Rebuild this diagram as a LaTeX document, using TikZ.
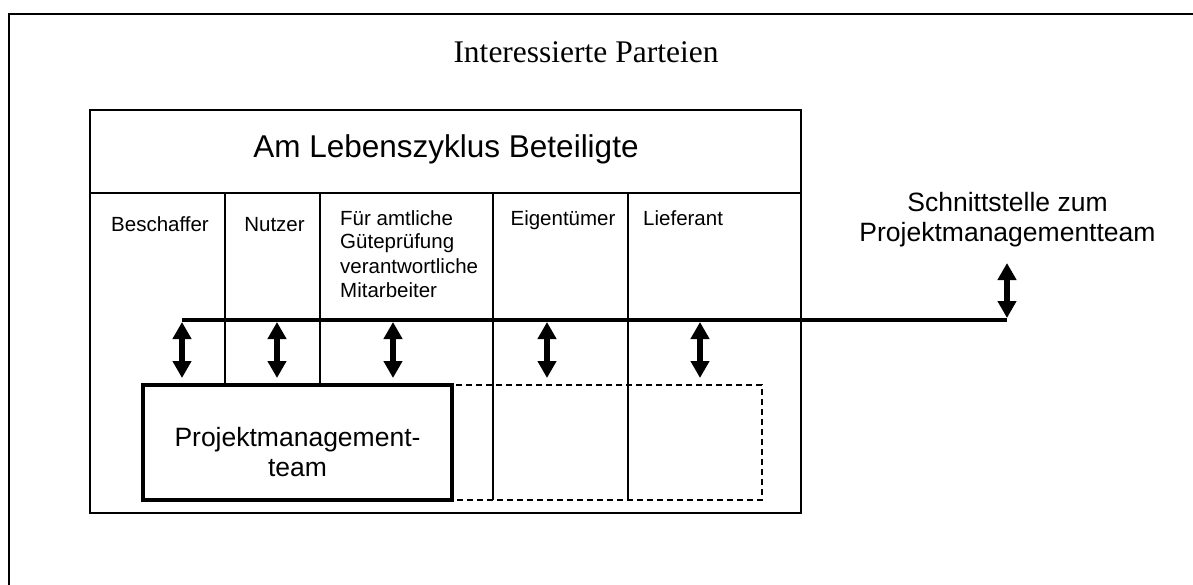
\documentclass[tikz,border=0pt]{standalone}
\usepackage{fontspec}
\setmainfont{Liberation Serif}
\newfontfamily\arialf{Liberation Sans}
\usetikzlibrary{arrows.meta}
\begin{document}
\begin{tikzpicture}[x=1pt,y=-1pt,
  thin/.style={line width=1.5pt},
  bus/.style={line width=4.5pt},
  pmbox/.style={line width=4.5pt},
  dashbox/.style={line width=1.4pt,dash pattern=on 6pt off 4pt},
  dbl/.style={line width=6pt,{Triangle[width=18pt,length=17pt]}-{Triangle[width=18pt,length=17pt]}},
  small/.style={font=\arialf\fontsize{20.5}{24}\selectfont, inner sep=0pt},
  big/.style={font=\arialf\fontsize{26.5}{30}\selectfont, inner sep=0pt, align=center},
  heading/.style={font=\arialf\fontsize{31.5}{36}\selectfont, inner sep=0pt},
  titletext/.style={font=\fontsize{31.5}{36}\selectfont, inner sep=0pt}
]
\useasboundingbox (0,0) rectangle (1193,585);
% outer frame (only top and left visible)
\draw[thin] (9,585) -- (9,14) -- (1193,14);
\node[titletext, anchor=base] (ip) at (586,63) {Interessierte Parteien};

% inner box
\draw[thin] (90,110) rectangle (801,513);
\draw[thin] (90,193) -- (801,193);
\node[heading, anchor=base] (alb) at (446,158) {Am Lebenszyklus Beteiligte};
\draw[thin] (225,193) -- (225,385);
\draw[thin] (320,193) -- (320,385);
\draw[thin] (493,193) -- (493,500);
\draw[thin] (628,193) -- (628,500);

% column labels
\node[small, anchor=base] (besch) at (160,231.7) {Beschaffer};
\node[small, anchor=base] (nutz) at (274.5,231.7) {Nutzer};
\node[small, anchor=base west, align=left] (fuer) at (340,297) {Für amtliche\\Güteprüfung\\verantwortliche\\Mitarbeiter};
\node[small, anchor=base] (eig) at (563,225.7) {Eigentümer};
\node[small, anchor=base west] (lief) at (643,225.7) {Lieferant};

% project management team boxes
\draw[dashbox] (452,385) rectangle (762,500);
\draw[pmbox] (143,385) rectangle (452,500);
\node[big, anchor=base] (pmt) at (297.5,476.7) {Projektmanagement-\\team};

% interface label
\node[big, anchor=base] (sst) at (1007.5,241.7) {Schnittstelle zum\\Projektmanagementteam};

% bus line and arrows
\coordinate (busL) at (182,320);
\coordinate (busR) at (1007,320);
\draw[bus] (busL) -- (busR);
\coordinate (a1t) at (182,322); \coordinate (a1b) at (182,378);
\coordinate (a2t) at (277,322); \coordinate (a2b) at (277,378);
\coordinate (a3t) at (393,322); \coordinate (a3b) at (393,378);
\coordinate (a4t) at (547,322); \coordinate (a4b) at (547,378);
\coordinate (a5t) at (700,322); \coordinate (a5b) at (700,378);
\coordinate (a6b) at (1007,318); \coordinate (a6t) at (1007,263);
\draw[dbl] (a1t) -- (a1b);
\draw[dbl] (a2t) -- (a2b);
\draw[dbl] (a3t) -- (a3b);
\draw[dbl] (a4t) -- (a4b);
\draw[dbl] (a5t) -- (a5b);
\draw[dbl] (a6b) -- (a6t);
\end{tikzpicture}
\end{document}
